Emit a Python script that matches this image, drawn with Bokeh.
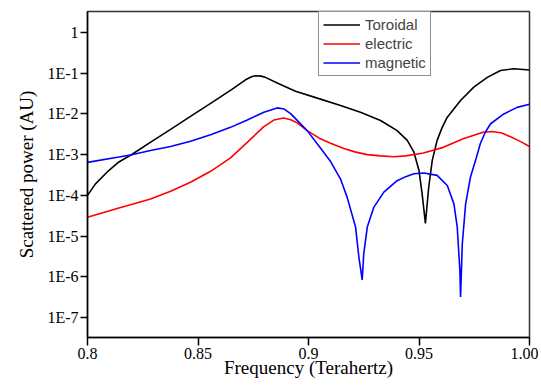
from bokeh.plotting import figure
from bokeh.models import FixedTicker, CustomJSTickFormatter, Range1d
from bokeh.embed import file_html
from bokeh.resources import INLINE

# ---- data ----
freq_toroidal = [0.8, 0.8036, 0.8096, 0.8142, 0.8202, 0.8293, 0.8376, 0.8466, 0.8571, 0.8655,
                 0.8715, 0.8745, 0.876, 0.8785, 0.8805, 0.8866, 0.8941, 0.904, 0.9145, 0.9235,
                 0.9326, 0.9401, 0.9447, 0.9477, 0.95, 0.9514, 0.9529, 0.9544, 0.956, 0.9582,
                 0.9605, 0.9628, 0.9688, 0.9748, 0.9809, 0.9869, 0.9929, 1.0]
power_toroidal = [1.00e-4, 1.91e-4, 4.07e-4, 6.61e-4, 1.02e-3, 2.14e-3, 4.17e-3, 8.71e-3, 2.04e-2, 4.07e-2,
                  6.92e-2, 8.32e-2, 8.71e-2, 8.51e-2, 7.94e-2, 5.50e-2, 3.63e-2, 2.45e-2, 1.62e-2, 1.10e-2,
                  6.92e-3, 3.89e-3, 2.24e-3, 1.15e-3, 4.07e-4, 1.10e-4, 2.04e-5, 1.58e-4, 7.24e-4, 2.24e-3,
                  4.68e-3, 8.32e-3, 2.14e-2, 4.57e-2, 7.94e-2, 1.17e-1, 1.29e-1, 1.20e-1]

freq_electric = [0.8, 0.8142, 0.8195, 0.8285, 0.8376, 0.8466, 0.8557, 0.8647, 0.8723, 0.8798,
                 0.8843, 0.8888, 0.892, 0.8949, 0.8994, 0.9054, 0.91, 0.916, 0.921, 0.9266,
                 0.9326, 0.9386, 0.944, 0.952, 0.961, 0.97, 0.979, 0.9831, 0.9875, 0.9914,
                 0.996, 1.0]
power_electric = [2.88e-5, 4.90e-5, 5.89e-5, 8.13e-5, 1.26e-4, 2.09e-4, 3.89e-4, 8.32e-4, 2.00e-3, 4.90e-3,
                  7.08e-3, 7.94e-3, 7.24e-3, 6.03e-3, 3.89e-3, 2.45e-3, 1.91e-3, 1.41e-3, 1.17e-3, 1.00e-3,
                  9.33e-4, 8.91e-4, 9.33e-4, 1.10e-3, 1.51e-3, 2.45e-3, 3.55e-3, 3.72e-3, 3.39e-3, 2.75e-3,
                  2.09e-3, 1.58e-3]

freq_magnetic = [0.8, 0.8142, 0.8195, 0.8285, 0.8376, 0.8466, 0.8557, 0.8647, 0.8723, 0.8798,
                 0.8858, 0.889, 0.8919, 0.8994, 0.9054, 0.91, 0.9145, 0.9175, 0.9213, 0.9228,
                 0.9243, 0.925, 0.9266, 0.9296, 0.9341, 0.9401, 0.944, 0.9477, 0.9522, 0.9582,
                 0.9628, 0.9658, 0.9673, 0.9685, 0.9688, 0.9696, 0.9711, 0.9733, 0.9756, 0.9778,
                 0.98, 0.9824, 0.9884, 0.9944, 1.0]
power_magnetic = [6.46e-4, 8.71e-4, 9.77e-4, 1.26e-3, 1.58e-3, 2.14e-3, 3.09e-3, 4.68e-3, 7.08e-3, 1.10e-2,
                  1.41e-2, 1.32e-2, 1.02e-2, 3.89e-3, 1.45e-3, 6.76e-4, 2.51e-4, 8.91e-5, 1.66e-5, 3.02e-6,
                  8.32e-7, 3.63e-6, 1.66e-5, 5.13e-5, 1.20e-4, 2.29e-4, 2.88e-4, 3.39e-4, 3.55e-4, 3.09e-4,
                  1.74e-4, 6.17e-5, 1.66e-5, 1.41e-6, 3.16e-7, 6.46e-6, 6.17e-5, 2.82e-4, 7.24e-4, 1.91e-3,
                  3.55e-3, 5.75e-3, 1.00e-2, 1.45e-2, 1.74e-2]

x_ticks = [0.8, 0.85, 0.9, 0.95, 1.0]
y_ticks = [1e-7, 1e-6, 1e-5, 1e-4, 1e-3, 1e-2, 1e-1, 1.0]

p = figure(width=538, height=384, output_backend="svg", toolbar_location=None,
           y_axis_type="log",
           x_range=Range1d(0.8, 1.0), y_range=Range1d(3.2e-8, 3.3),
           min_border_left=87, min_border_right=9, min_border_top=11, min_border_bottom=47)

p.line(freq_toroidal, power_toroidal, line_color="black", line_width=1.6, legend_label="Toroidal")
p.line(freq_electric, power_electric, line_color="#ff0000", line_width=1.6, legend_label="electric")
p.line(freq_magnetic, power_magnetic, line_color="#0000ff", line_width=1.6, legend_label="magnetic")

p.xgrid.visible = False
p.ygrid.visible = False
p.outline_line_color = "#333333"
p.outline_line_width = 1.5
p.background_fill_color = "white"
p.border_fill_color = "white"

serif = "Liberation Serif"

xa = p.xaxis[0]
xa.ticker = FixedTicker(ticks=x_ticks)
xa.formatter = CustomJSTickFormatter(code="return tick > 0.999 ? '1.00' : (Math.round(tick*100)/100).toString();")
xa.minor_tick_line_color = None
xa.major_tick_in = 0
xa.major_tick_out = 8
xa.major_label_standoff = 2
xa.major_label_text_font = serif
xa.major_label_text_font_size = "16px"
xa.major_label_text_color = "black"
xa.axis_line_color = "black"
xa.axis_line_width = 1.5
xa.major_tick_line_width = 1.5
xa.axis_label = "Frequency (Terahertz)"
xa.axis_label_text_font = serif
xa.axis_label_text_font_style = "normal"
xa.axis_label_text_font_size = "19px"
xa.axis_label_text_color = "black"
xa.axis_label_standoff = -5

ya = p.yaxis[0]
ya.ticker = FixedTicker(ticks=y_ticks)
ya.formatter = CustomJSTickFormatter(code="return tick > 0.5 ? '1' : '1E' + Math.round(Math.log10(tick));")
ya.minor_tick_line_color = None
ya.major_tick_in = 0
ya.major_tick_out = 7
ya.major_label_standoff = 2
ya.major_label_text_font = serif
ya.major_label_text_font_size = "16px"
ya.major_label_text_color = "black"
ya.axis_line_color = "black"
ya.axis_line_width = 1.5
ya.major_tick_line_width = 1.5
ya.axis_label = "Scattered power (AU)"
ya.axis_label_text_font = serif
ya.axis_label_text_font_style = "normal"
ya.axis_label_text_font_size = "19px"
ya.axis_label_text_color = "black"
ya.axis_label_standoff = 7

lg = p.legend[0]
lg.location = (231, 326 - 2 - 63)
lg.label_text_font = "Liberation Sans"
lg.label_text_font_size = "15px"
lg.glyph_width = 37
lg.glyph_height = 17
lg.label_height = 17
lg.label_standoff = 5
lg.padding = 4
lg.spacing = 2
lg.margin = 0
lg.border_line_color = "#222222"
lg.border_line_width = 1
lg.background_fill_alpha = 1.0

open("out.html", "w").write(file_html(p, INLINE))
